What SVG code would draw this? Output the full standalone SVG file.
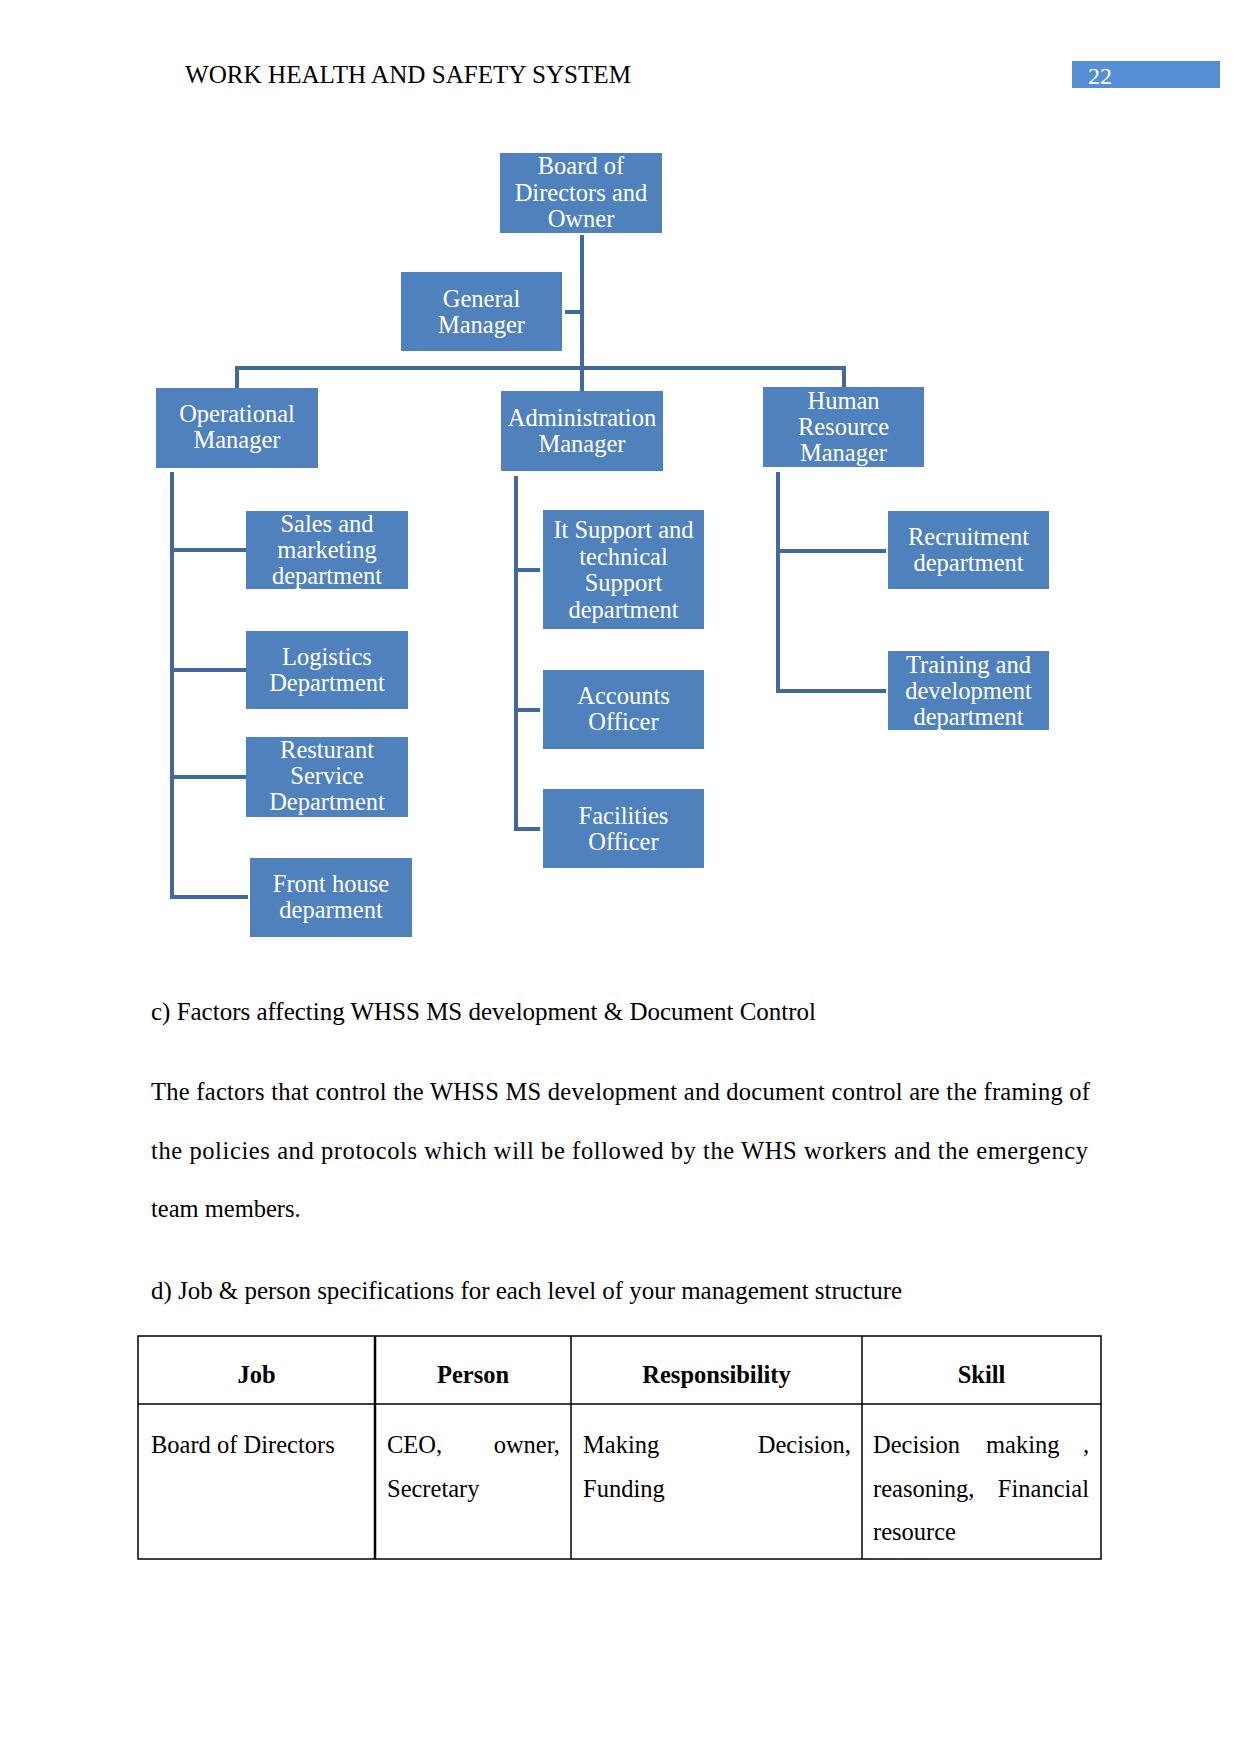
<svg xmlns="http://www.w3.org/2000/svg" width="1241" height="1754" viewBox="0 0 1241 1754">
<style>
.box{fill:#4F81BD;}
.bt{font-family:"Liberation Serif","Times New Roman",serif;font-size:24.5px;fill:#FFFFFF;text-anchor:middle;}
.con{stroke:#41699C;stroke-width:4;fill:none;stroke-linecap:square;}
.t{font-family:"Liberation Serif","Times New Roman",serif;font-size:24.5px;fill:#000000;}
.th{font-family:"Liberation Serif","Times New Roman",serif;font-size:24.5px;font-weight:bold;fill:#000000;text-anchor:middle;}
.e{text-anchor:end;}
.grid{stroke:#000000;stroke-width:1.5;fill:none;}
</style>
<rect width="1241" height="1754" fill="#FFFFFF"/>
<g id="header">
<text class="t" x="185" y="83" textLength="446" lengthAdjust="spacingAndGlyphs">WORK HEALTH AND SAFETY SYSTEM</text>
<rect x="1072" y="61" width="148" height="27" fill="#558ED5"/>
<text x="1088" y="84" font-family="Liberation Serif, serif" font-size="24" fill="#FFFFFF">22</text>
</g>
<g id="connectors">
<path class="con" d="M582 237 V389"/>
<path class="con" d="M567 312 H582"/>
<path class="con" d="M237 368 H844"/>
<path class="con" d="M237 368 V386"/>
<path class="con" d="M844 368 V385"/>
<path class="con" d="M172 474 V897 H246"/>
<path class="con" d="M172 550 H244"/>
<path class="con" d="M172 670 H244"/>
<path class="con" d="M172 777 H244"/>
<path class="con" d="M516 478 V829 H538"/>
<path class="con" d="M516 570 H538"/>
<path class="con" d="M516 710 H538"/>
<path class="con" d="M778 474 V691 H884"/>
<path class="con" d="M778 551 H884"/>
</g>
<g id="board">
<rect class="box" x="500" y="153" width="162" height="80"/>
<text class="bt" x="581" y="174">Board of</text>
<text class="bt" x="581" y="200.5">Directors and</text>
<text class="bt" x="581" y="227">Owner</text>
</g>
<g id="general-manager">
<rect class="box" x="401" y="272" width="161" height="79"/>
<text class="bt" x="481.5" y="307">General</text>
<text class="bt" x="481.5" y="333">Manager</text>
</g>
<g id="operational-manager">
<rect class="box" x="156" y="388" width="162" height="80"/>
<text class="bt" x="237" y="422">Operational</text>
<text class="bt" x="237" y="448">Manager</text>
</g>
<g id="administration-manager">
<rect class="box" x="501" y="391" width="162" height="80"/>
<text class="bt" x="582" y="425.5">Administration</text>
<text class="bt" x="582" y="451.5">Manager</text>
</g>
<g id="hr-manager">
<rect class="box" x="763" y="387" width="161" height="80"/>
<text class="bt" x="843.5" y="408.5">Human</text>
<text class="bt" x="843.5" y="434.5">Resource</text>
<text class="bt" x="843.5" y="460.5">Manager</text>
</g>
<g id="sales">
<rect class="box" x="246" y="511" width="162" height="78"/>
<text class="bt" x="327" y="532">Sales and</text>
<text class="bt" x="327" y="558">marketing</text>
<text class="bt" x="327" y="584">department</text>
</g>
<g id="logistics">
<rect class="box" x="246" y="631" width="162" height="78"/>
<text class="bt" x="327" y="665">Logistics</text>
<text class="bt" x="327" y="691">Department</text>
</g>
<g id="resturant">
<rect class="box" x="246" y="737" width="162" height="80"/>
<text class="bt" x="327" y="758">Resturant</text>
<text class="bt" x="327" y="784">Service</text>
<text class="bt" x="327" y="810">Department</text>
</g>
<g id="front-house">
<rect class="box" x="250" y="858" width="162" height="79"/>
<text class="bt" x="331" y="892">Front house</text>
<text class="bt" x="331" y="918">deparment</text>
</g>
<g id="it-support">
<rect class="box" x="543" y="510" width="161" height="119"/>
<text class="bt" x="623.5" y="538">It Support and</text>
<text class="bt" x="623.5" y="564.5">technical</text>
<text class="bt" x="623.5" y="591">Support</text>
<text class="bt" x="623.5" y="617.5">department</text>
</g>
<g id="accounts">
<rect class="box" x="543" y="670" width="161" height="79"/>
<text class="bt" x="623.5" y="704">Accounts</text>
<text class="bt" x="623.5" y="730">Officer</text>
</g>
<g id="facilities">
<rect class="box" x="543" y="789" width="161" height="79"/>
<text class="bt" x="623.5" y="823.5">Facilities</text>
<text class="bt" x="623.5" y="849.5">Officer</text>
</g>
<g id="recruitment">
<rect class="box" x="888" y="511" width="161" height="78"/>
<text class="bt" x="968.5" y="545">Recruitment</text>
<text class="bt" x="968.5" y="571">department</text>
</g>
<g id="training">
<rect class="box" x="888" y="651" width="161" height="79"/>
<text class="bt" x="968.5" y="672.5">Training and</text>
<text class="bt" x="968.5" y="698.5">development</text>
<text class="bt" x="968.5" y="724.5">department</text>
</g>
<g id="body-text">
<text class="t" x="151" y="1020" textLength="665" lengthAdjust="spacingAndGlyphs">c) Factors affecting WHSS MS development &amp; Document Control</text>
<text class="t" x="151" y="1100" textLength="939" lengthAdjust="spacing">The factors that control the WHSS MS development and document control are the framing of</text>
<text class="t" x="151" y="1159" textLength="937" lengthAdjust="spacing">the policies and protocols which will be followed by the WHS workers and the emergency</text>
<text class="t" x="151" y="1217">team members.</text>
<text class="t" x="151" y="1299" textLength="751" lengthAdjust="spacingAndGlyphs">d) Job &amp; person specifications for each level of your management structure</text>
</g>
<g id="table">
<rect class="grid" x="138" y="1336" width="963" height="223"/>
<line class="grid" x1="138" y1="1404" x2="1101" y2="1404"/>
<line x1="375" y1="1336" x2="375" y2="1559" stroke="#000" stroke-width="2.5"/>
<line class="grid" x1="571" y1="1336" x2="571" y2="1559"/>
<line class="grid" x1="862" y1="1336" x2="862" y2="1559"/>
<text class="th" x="256.5" y="1383">Job</text>
<text class="th" x="473" y="1383">Person</text>
<text class="th" x="716.5" y="1383">Responsibility</text>
<text class="th" x="981.5" y="1383">Skill</text>
<text class="t" x="151" y="1453">Board of Directors</text>
<text class="t" x="387" y="1453">CEO,</text>
<text class="t e" x="560" y="1453">owner,</text>
<text class="t" x="387" y="1497">Secretary</text>
<text class="t" x="583" y="1453">Making</text>
<text class="t e" x="851" y="1453">Decision,</text>
<text class="t" x="583" y="1497">Funding</text>
<text class="t" x="873" y="1453">Decision</text>
<text class="t" x="986" y="1453">making</text>
<text class="t e" x="1089" y="1453">,</text>
<text class="t" x="873" y="1497">reasoning,</text>
<text class="t e" x="1089" y="1497">Financial</text>
<text class="t" x="873" y="1540">resource</text>
</g>
</svg>
